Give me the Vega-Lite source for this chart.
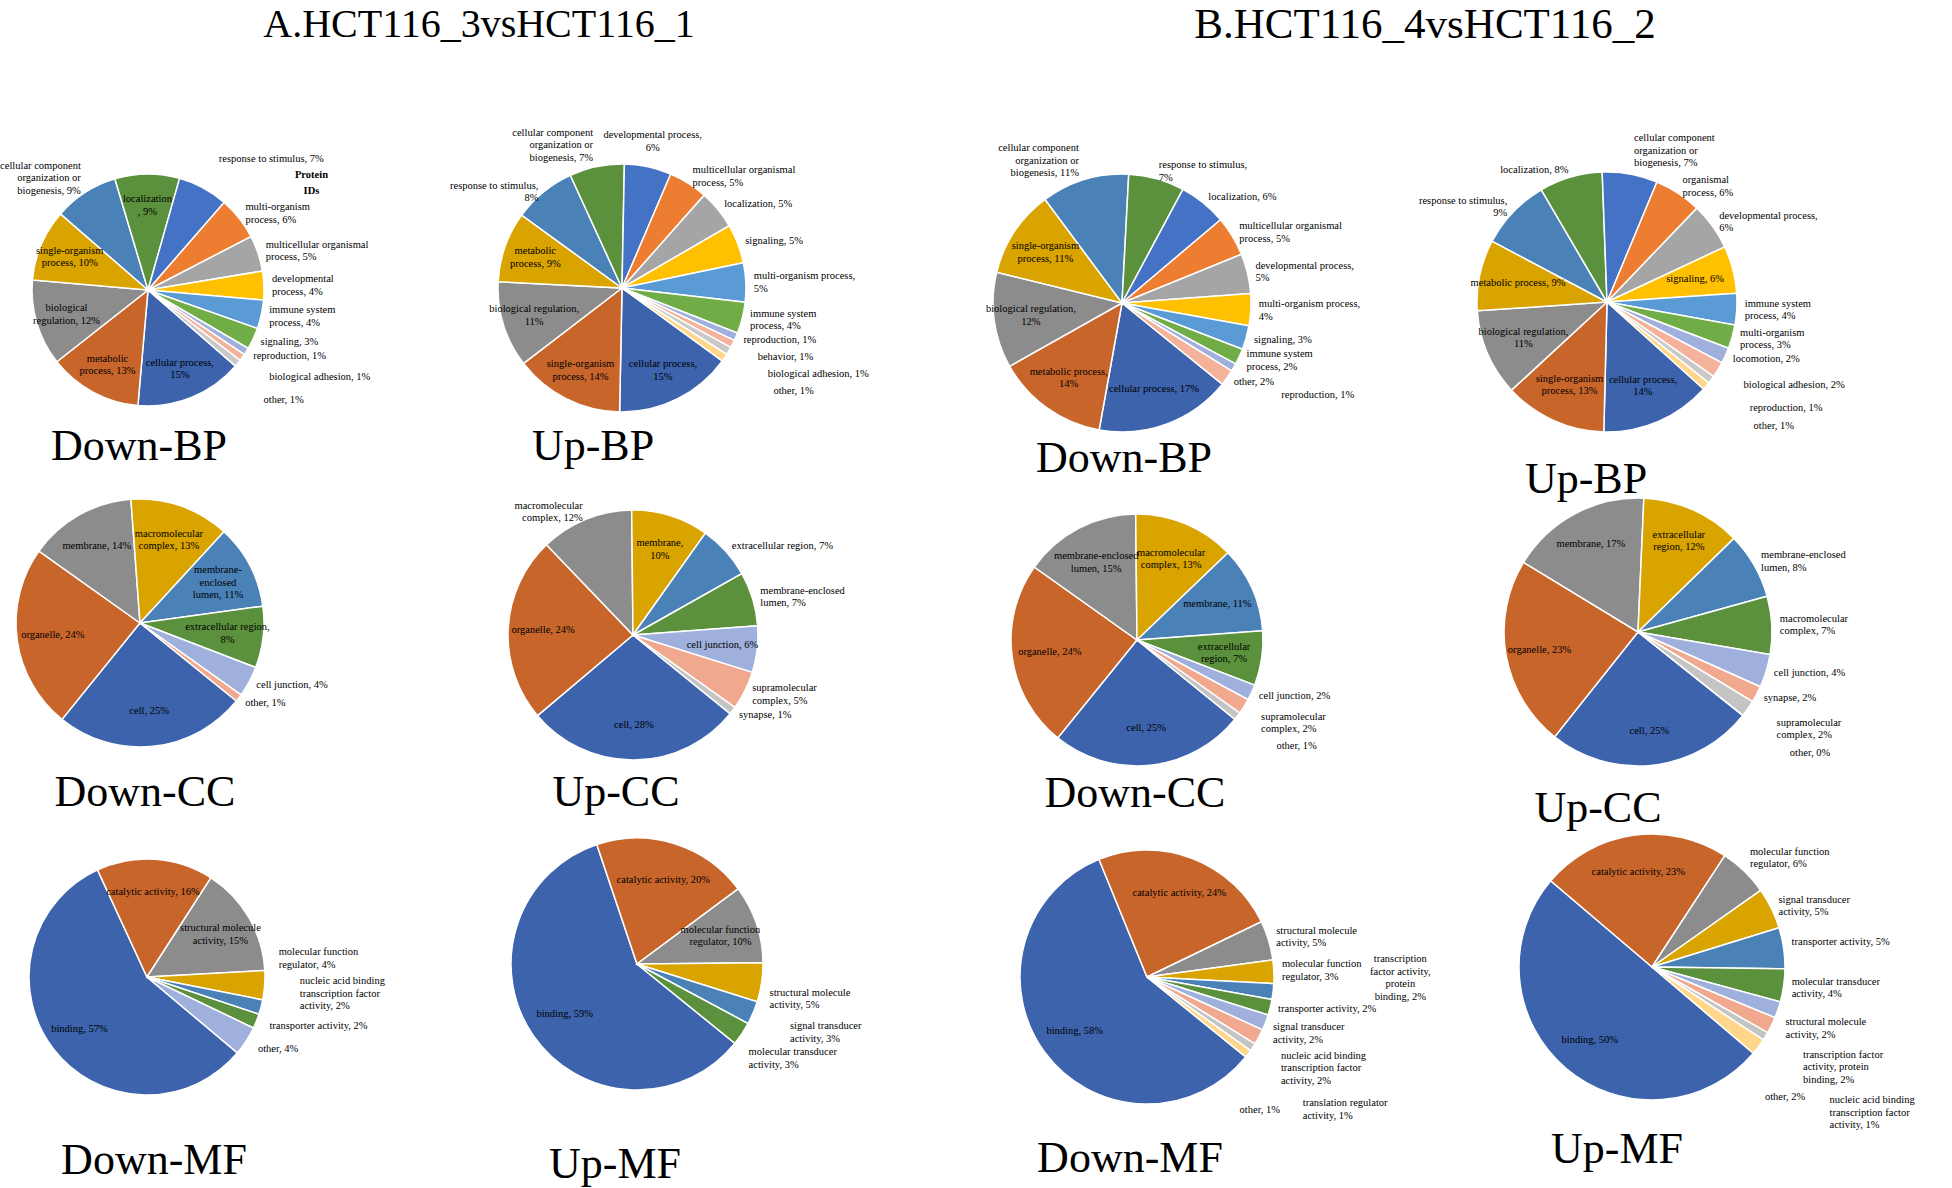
{
"$schema": "https://vega.github.io/schema/vega-lite/v6.json",
"padding": 0,
"background": "#ffffff",
"config": {
  "view": {"stroke": null},
  "font": "Liberation Serif",
  "text": {"font": "Liberation Serif", "fontSize": 10.5, "lineHeight": 12.5, "color": "#000000", "lineBreak": "\n"},
  "arc": {"stroke": "#ffffff", "strokeWidth": 1.5},
  "title": {"font": "Liberation Serif", "fontSize": 44, "fontWeight": "normal", "color": "#000000", "anchor": "middle", "orient": "bottom"}
},
"datasets": {
  "adbp": [
    {"k":1,"name":"cellular process","v":15,"lab":"cellular process,\n15%"},
    {"k":2,"name":"metabolic process","v":13,"lab":"metabolic\nprocess, 13%"},
    {"k":3,"name":"biological regulation","v":12,"lab":"biological\nregulation, 12%"},
    {"k":4,"name":"single-organism process","v":10,"lab":"single-organism\nprocess, 10%"},
    {"k":5,"name":"cellular component organization or biogenesis","v":9,"lab":"cellular component\norganization or\nbiogenesis, 9%"},
    {"k":6,"name":"localization","v":9,"lab":"localization\n, 9%"},
    {"k":7,"name":"response to stimulus","v":7,"lab":"response to stimulus, 7%"},
    {"k":8,"name":"multi-organism process","v":6,"lab":"multi-organism\nprocess, 6%"},
    {"k":9,"name":"multicellular organismal process","v":5,"lab":"multicellular organismal\nprocess, 5%"},
    {"k":10,"name":"developmental process","v":4,"lab":"developmental\nprocess, 4%"},
    {"k":11,"name":"immune system process","v":4,"lab":"immune system\nprocess, 4%"},
    {"k":12,"name":"signaling","v":3,"lab":"signaling, 3%"},
    {"k":13,"name":"reproduction","v":1,"lab":"reproduction, 1%"},
    {"k":14,"name":"biological adhesion","v":1,"lab":"biological adhesion, 1%"},
    {"k":15,"name":"other","v":1,"lab":"other, 1%"}
  ],
  "aubp": [
    {"k":1,"name":"cellular process","v":15,"lab":"cellular process,\n15%"},
    {"k":2,"name":"single-organism process","v":14,"lab":"single-organism\nprocess, 14%"},
    {"k":3,"name":"biological regulation","v":11,"lab":"biological regulation,\n11%"},
    {"k":4,"name":"metabolic process","v":9,"lab":"metabolic\nprocess, 9%"},
    {"k":5,"name":"response to stimulus","v":8,"lab":"response to stimulus,\n8%"},
    {"k":6,"name":"cellular component organization or biogenesis","v":7,"lab":"cellular component\norganization or\nbiogenesis, 7%"},
    {"k":7,"name":"developmental process","v":6,"lab":"developmental process,\n6%"},
    {"k":8,"name":"multicellular organismal process","v":5,"lab":"multicellular organismal\nprocess, 5%"},
    {"k":9,"name":"localization","v":5,"lab":"localization, 5%"},
    {"k":10,"name":"signaling","v":5,"lab":"signaling, 5%"},
    {"k":11,"name":"multi-organism process","v":5,"lab":"multi-organism process,\n5%"},
    {"k":12,"name":"immune system process","v":4,"lab":"immune system\nprocess, 4%"},
    {"k":13,"name":"reproduction","v":1,"lab":"reproduction, 1%"},
    {"k":14,"name":"behavior","v":1,"lab":"behavior, 1%"},
    {"k":15,"name":"biological adhesion","v":1,"lab":"biological adhesion, 1%"},
    {"k":16,"name":"other","v":1,"lab":"other, 1%"}
  ],
  "bdbp": [
    {"k":1,"name":"cellular process","v":17,"lab":"cellular process, 17%"},
    {"k":2,"name":"metabolic process","v":14,"lab":"metabolic process,\n14%"},
    {"k":3,"name":"biological regulation","v":12,"lab":"biological regulation,\n12%"},
    {"k":4,"name":"single-organism process","v":11,"lab":"single-organism\nprocess, 11%"},
    {"k":5,"name":"cellular component organization or biogenesis","v":11,"lab":"cellular component\norganization or\nbiogenesis, 11%"},
    {"k":6,"name":"response to stimulus","v":7,"lab":"response to stimulus,\n7%"},
    {"k":7,"name":"localization","v":6,"lab":"localization, 6%"},
    {"k":8,"name":"multicellular organismal process","v":5,"lab":"multicellular organismal\nprocess, 5%"},
    {"k":9,"name":"developmental process","v":5,"lab":"developmental process,\n5%"},
    {"k":10,"name":"multi-organism process","v":4,"lab":"multi-organism process,\n4%"},
    {"k":11,"name":"signaling","v":3,"lab":"signaling, 3%"},
    {"k":12,"name":"immune system process","v":2,"lab":"immune system\nprocess, 2%"},
    {"k":13,"name":"reproduction","v":1,"lab":"reproduction, 1%"},
    {"k":14,"name":"other","v":2,"lab":"other, 2%"}
  ],
  "bubp": [
    {"k":1,"name":"cellular process","v":14,"lab":"cellular process,\n14%"},
    {"k":2,"name":"single-organism process","v":13,"lab":"single-organism\nprocess, 13%"},
    {"k":3,"name":"biological regulation","v":11,"lab":"biological regulation,\n11%"},
    {"k":4,"name":"metabolic process","v":9,"lab":"metabolic process, 9%"},
    {"k":5,"name":"response to stimulus","v":9,"lab":"response to stimulus,\n9%"},
    {"k":6,"name":"localization","v":8,"lab":"localization, 8%"},
    {"k":7,"name":"cellular component organization or biogenesis","v":7,"lab":"cellular component\norganization or\nbiogenesis, 7%"},
    {"k":8,"name":"organismal process","v":6,"lab":"organismal\nprocess, 6%"},
    {"k":9,"name":"developmental process","v":6,"lab":"developmental process,\n6%"},
    {"k":10,"name":"signaling","v":6,"lab":"signaling, 6%"},
    {"k":11,"name":"immune system process","v":4,"lab":"immune system\nprocess, 4%"},
    {"k":12,"name":"multi-organism process","v":3,"lab":"multi-organism\nprocess, 3%"},
    {"k":13,"name":"locomotion","v":2,"lab":"locomotion, 2%"},
    {"k":14,"name":"biological adhesion","v":2,"lab":"biological adhesion, 2%"},
    {"k":15,"name":"reproduction","v":1,"lab":"reproduction, 1%"},
    {"k":16,"name":"other","v":1,"lab":"other, 1%"}
  ],
  "adcc": [
    {"k":1,"name":"cell","v":25,"lab":"cell, 25%"},
    {"k":2,"name":"organelle","v":24,"lab":"organelle, 24%"},
    {"k":3,"name":"membrane","v":14,"lab":"membrane, 14%"},
    {"k":4,"name":"macromolecular complex","v":13,"lab":"macromolecular\ncomplex, 13%"},
    {"k":5,"name":"membrane-enclosed lumen","v":11,"lab":"membrane-\nenclosed\nlumen, 11%"},
    {"k":6,"name":"extracellular region","v":8,"lab":"extracellular region,\n8%"},
    {"k":7,"name":"cell junction","v":4,"lab":"cell junction, 4%"},
    {"k":8,"name":"other","v":1,"lab":"other, 1%"}
  ],
  "aucc": [
    {"k":1,"name":"cell","v":28,"lab":"cell, 28%"},
    {"k":2,"name":"organelle","v":24,"lab":"organelle, 24%"},
    {"k":3,"name":"macromolecular complex","v":12,"lab":"macromolecular\ncomplex, 12%"},
    {"k":4,"name":"membrane","v":10,"lab":"membrane,\n10%"},
    {"k":5,"name":"extracellular region","v":7,"lab":"extracellular region, 7%"},
    {"k":6,"name":"membrane-enclosed lumen","v":7,"lab":"membrane-enclosed\nlumen, 7%"},
    {"k":7,"name":"cell junction","v":6,"lab":"cell junction, 6%"},
    {"k":8,"name":"supramolecular complex","v":5,"lab":"supramolecular\ncomplex, 5%"},
    {"k":9,"name":"synapse","v":1,"lab":"synapse, 1%"}
  ],
  "bdcc": [
    {"k":1,"name":"cell","v":25,"lab":"cell, 25%"},
    {"k":2,"name":"organelle","v":24,"lab":"organelle, 24%"},
    {"k":3,"name":"membrane-enclosed lumen","v":15,"lab":"membrane-enclosed\nlumen, 15%"},
    {"k":4,"name":"macromolecular complex","v":13,"lab":"macromolecular\ncomplex, 13%"},
    {"k":5,"name":"membrane","v":11,"lab":"membrane, 11%"},
    {"k":6,"name":"extracellular region","v":7,"lab":"extracellular\nregion, 7%"},
    {"k":7,"name":"cell junction","v":2,"lab":"cell junction, 2%"},
    {"k":8,"name":"supramolecular complex","v":2,"lab":"supramolecular\ncomplex, 2%"},
    {"k":9,"name":"other","v":1,"lab":"other, 1%"}
  ],
  "bucc": [
    {"k":1,"name":"cell","v":25,"lab":"cell, 25%"},
    {"k":2,"name":"organelle","v":23,"lab":"organelle, 23%"},
    {"k":3,"name":"membrane","v":17,"lab":"membrane, 17%"},
    {"k":4,"name":"extracellular region","v":12,"lab":"extracellular\nregion, 12%"},
    {"k":5,"name":"membrane-enclosed lumen","v":8,"lab":"membrane-enclosed\nlumen, 8%"},
    {"k":6,"name":"macromolecular complex","v":7,"lab":"macromolecular\ncomplex, 7%"},
    {"k":7,"name":"cell junction","v":4,"lab":"cell junction, 4%"},
    {"k":8,"name":"synapse","v":2,"lab":"synapse, 2%"},
    {"k":9,"name":"supramolecular complex","v":2,"lab":"supramolecular\ncomplex, 2%"},
    {"k":10,"name":"other","v":0,"lab":"other, 0%"}
  ],
  "admf": [
    {"k":1,"name":"binding","v":57,"lab":"binding, 57%"},
    {"k":2,"name":"catalytic activity","v":16,"lab":"catalytic activity, 16%"},
    {"k":3,"name":"structural molecule activity","v":15,"lab":"structural molecule\nactivity, 15%"},
    {"k":4,"name":"molecular function regulator","v":4,"lab":"molecular function\nregulator, 4%"},
    {"k":5,"name":"nucleic acid binding transcription factor activity","v":2,"lab":"nucleic acid binding\ntranscription factor\nactivity, 2%"},
    {"k":6,"name":"transporter activity","v":2,"lab":"transporter activity, 2%"},
    {"k":7,"name":"other","v":4,"lab":"other, 4%"}
  ],
  "aumf": [
    {"k":1,"name":"binding","v":59,"lab":"binding, 59%"},
    {"k":2,"name":"catalytic activity","v":20,"lab":"catalytic activity, 20%"},
    {"k":3,"name":"molecular function regulator","v":10,"lab":"molecular function\nregulator, 10%"},
    {"k":4,"name":"structural molecule activity","v":5,"lab":"structural molecule\nactivity, 5%"},
    {"k":5,"name":"signal transducer activity","v":3,"lab":"signal transducer\nactivity, 3%"},
    {"k":6,"name":"molecular transducer activity","v":3,"lab":"molecular transducer\nactivity, 3%"}
  ],
  "bdmf": [
    {"k":1,"name":"binding","v":58,"lab":"binding, 58%"},
    {"k":2,"name":"catalytic activity","v":24,"lab":"catalytic activity, 24%"},
    {"k":3,"name":"structural molecule activity","v":5,"lab":"structural molecule\nactivity, 5%"},
    {"k":4,"name":"molecular function regulator","v":3,"lab":"molecular function\nregulator, 3%"},
    {"k":5,"name":"transcription factor activity, protein binding","v":2,"lab":"transcription\nfactor activity,\nprotein\nbinding, 2%"},
    {"k":6,"name":"transporter activity","v":2,"lab":"transporter activity, 2%"},
    {"k":7,"name":"signal transducer activity","v":2,"lab":"signal transducer\nactivity, 2%"},
    {"k":8,"name":"nucleic acid binding transcription factor activity","v":2,"lab":"nucleic acid binding\ntranscription factor\nactivity, 2%"},
    {"k":9,"name":"translation regulator activity","v":1,"lab":"translation regulator\nactivity, 1%"},
    {"k":10,"name":"other","v":1,"lab":"other, 1%"}
  ],
  "bumf": [
    {"k":1,"name":"binding","v":50,"lab":"binding, 50%"},
    {"k":2,"name":"catalytic activity","v":23,"lab":"catalytic activity, 23%"},
    {"k":3,"name":"molecular function regulator","v":6,"lab":"molecular function\nregulator, 6%"},
    {"k":4,"name":"signal transducer activity","v":5,"lab":"signal transducer\nactivity, 5%"},
    {"k":5,"name":"transporter activity","v":5,"lab":"transporter activity, 5%"},
    {"k":6,"name":"molecular transducer activity","v":4,"lab":"molecular transducer\nactivity, 4%"},
    {"k":7,"name":"structural molecule activity","v":2,"lab":"structural molecule\nactivity, 2%"},
    {"k":8,"name":"transcription factor activity, protein binding","v":2,"lab":"transcription factor\nactivity, protein\nbinding, 2%"},
    {"k":9,"name":"nucleic acid binding transcription factor activity","v":1,"lab":"nucleic acid binding\ntranscription factor\nactivity, 1%"},
    {"k":10,"name":"other","v":2,"lab":"other, 2%"}
  ]
},
"columns": 4,
"align": "each",
"bounds": "flush",
"spacing": {"row": 60, "column": 40},
"resolve": {"scale": {"color": "independent", "theta": "independent"}},
"concat": [
  {"width": 1, "height": 44, "data": {"values": [{"t": ""}]}, "mark": {"type": "text"}, "encoding": {"text": {"field": "t"}}},
  {"width": 286, "height": 44, "data": {"values": [{"t": "A.HCT116_3vsHCT116_1"}]}, "mark": {"type": "text", "fontSize": 40, "dy": 3}, "encoding": {"text": {"field": "t"}}},
  {"width": 1, "height": 44, "data": {"values": [{"t": ""}]}, "mark": {"type": "text"}, "encoding": {"text": {"field": "t"}}},
  {"width": 138, "height": 44, "data": {"values": [{"t": "B.HCT116_4vsHCT116_2"}]}, "mark": {"type": "text", "fontSize": 43, "dy": 3}, "encoding": {"text": {"field": "t"}}},
  {
    "width": 296, "height": 372, "data": {"name": "adbp"},
    "title": {"text": "Down-BP", "orient": "bottom", "offset": -51, "dx": -9},
    "encoding": {"theta": {"field": "v", "type": "quantitative", "stack": true, "scale": {"range": [2.2864, 8.5696]}}, "order": {"field": "k", "type": "quantitative"}},
    "layer": [
      {"mark": {"type": "arc", "outerRadius": 116}, "encoding": {"color": {"field": "k", "type": "ordinal", "legend": null, "scale": {"range": ["#3C63AC","#C8652B","#8C8C8C","#D9A300","#4A81B7","#5B913C","#4472C4","#ED7D31","#A5A5A5","#FFC000","#5B9BD5","#70AD47","#9FB0DC","#F4B29A","#C9C9C9","#FFD68A"]}}}},
      {"mark": {"type": "text", "radius": 85, "dy": -6}, "encoding": {"text": {"condition": {"test": "indexof([1,2,3,4,6], datum.k) >= 0", "field": "lab"}, "value": ""}}},
      {"mark": {"type": "text", "radius": 124, "align": "right", "dy": -20}, "encoding": {"text": {"condition": {"test": "indexof([5], datum.k) >= 0", "field": "lab"}, "value": ""}}},
      {"mark": {"type": "text", "radius": 124, "align": "left", "dy": -6}, "encoding": {"text": {"condition": {"test": "indexof([8,9,10,11], datum.k) >= 0", "field": "lab"}, "value": ""}}},
      {"mark": {"type": "text", "radius": 124, "align": "left"}, "encoding": {"text": {"condition": {"test": "indexof([12,13], datum.k) >= 0", "field": "lab"}, "value": ""}}},
      {"mark": {"type": "text", "radius": 149, "align": "left"}, "encoding": {"text": {"condition": {"test": "indexof([7,14], datum.k) >= 0", "field": "lab"}, "value": ""}}},
      {"mark": {"type": "text", "radius": 149, "align": "left", "dy": 16}, "encoding": {"text": {"condition": {"test": "indexof([15], datum.k) >= 0", "field": "lab"}, "value": ""}}},
      {"mark": {"type": "text", "radius": 124, "align": "center", "fontWeight": "bold", "lineHeight": 16, "dx": 66, "dy": -38}, "encoding": {"text": {"condition": {"test": "datum.k == 8", "value": "Protein\nIDs"}, "value": ""}}}
    ]
  },
  {
    "width": 572, "height": 368, "data": {"name": "aubp"},
    "title": {"text": "Up-BP", "orient": "bottom", "offset": -47, "dx": -29},
    "encoding": {"theta": {"field": "v", "type": "quantitative", "stack": true, "scale": {"range": [2.1991, 8.4823]}}, "order": {"field": "k", "type": "quantitative"}},
    "layer": [
      {"mark": {"type": "arc", "outerRadius": 124}, "encoding": {"color": {"field": "k", "type": "ordinal", "legend": null, "scale": {"range": ["#3C63AC","#C8652B","#8C8C8C","#D9A300","#4A81B7","#5B913C","#4472C4","#ED7D31","#A5A5A5","#FFC000","#5B9BD5","#70AD47","#9FB0DC","#F4B29A","#C9C9C9","#FFD68A"]}}}},
      {"mark": {"type": "text", "radius": 92, "dy": -6}, "encoding": {"text": {"condition": {"test": "indexof([1,2,3,4], datum.k) >= 0", "field": "lab"}, "value": ""}}},
      {"mark": {"type": "text", "radius": 132, "align": "right"}, "encoding": {"text": {"condition": {"test": "indexof([5], datum.k) >= 0", "field": "lab"}, "value": ""}}},
      {"mark": {"type": "text", "radius": 142, "align": "right", "dy": -16}, "encoding": {"text": {"condition": {"test": "indexof([6], datum.k) >= 0", "field": "lab"}, "value": ""}}},
      {"mark": {"type": "text", "radius": 146, "align": "center", "dy": -10}, "encoding": {"text": {"condition": {"test": "indexof([7], datum.k) >= 0", "field": "lab"}, "value": ""}}},
      {"mark": {"type": "text", "radius": 132, "align": "left", "dy": -6}, "encoding": {"text": {"condition": {"test": "indexof([8,11,12], datum.k) >= 0", "field": "lab"}, "value": ""}}},
      {"mark": {"type": "text", "radius": 132, "align": "left"}, "encoding": {"text": {"condition": {"test": "indexof([9,10,13], datum.k) >= 0", "field": "lab"}, "value": ""}}},
      {"mark": {"type": "text", "radius": 152, "align": "left"}, "encoding": {"text": {"condition": {"test": "indexof([14], datum.k) >= 0", "field": "lab"}, "value": ""}}},
      {"mark": {"type": "text", "radius": 169, "align": "left"}, "encoding": {"text": {"condition": {"test": "indexof([15], datum.k) >= 0", "field": "lab"}, "value": ""}}},
      {"mark": {"type": "text", "radius": 183, "align": "left"}, "encoding": {"text": {"condition": {"test": "indexof([16], datum.k) >= 0", "field": "lab"}, "value": ""}}}
    ]
  },
  {
    "width": 288, "height": 398, "data": {"name": "bdbp"},
    "title": {"text": "Down-BP", "orient": "bottom", "offset": -65, "dx": 2},
    "encoding": {"theta": {"field": "v", "type": "quantitative", "stack": true, "scale": {"range": [2.2515, 8.5347]}}, "order": {"field": "k", "type": "quantitative"}},
    "layer": [
      {"mark": {"type": "arc", "outerRadius": 129}, "encoding": {"color": {"field": "k", "type": "ordinal", "legend": null, "scale": {"range": ["#3C63AC","#C8652B","#8C8C8C","#D9A300","#4A81B7","#5B913C","#4472C4","#ED7D31","#A5A5A5","#FFC000","#5B9BD5","#70AD47","#9FB0DC","#F4B29A","#C9C9C9","#FFD68A"]}}}},
      {"mark": {"type": "text", "radius": 92}, "encoding": {"text": {"condition": {"test": "indexof([1], datum.k) >= 0", "field": "lab"}, "value": ""}}},
      {"mark": {"type": "text", "radius": 92, "dy": -6}, "encoding": {"text": {"condition": {"test": "indexof([2,3,4], datum.k) >= 0", "field": "lab"}, "value": ""}}},
      {"mark": {"type": "text", "radius": 149, "align": "right", "dy": -12}, "encoding": {"text": {"condition": {"test": "indexof([5], datum.k) >= 0", "field": "lab"}, "value": ""}}},
      {"mark": {"type": "text", "radius": 137, "align": "left", "dy": -6}, "encoding": {"text": {"condition": {"test": "indexof([6,8,9,10,12], datum.k) >= 0", "field": "lab"}, "value": ""}}},
      {"mark": {"type": "text", "radius": 137, "align": "left"}, "encoding": {"text": {"condition": {"test": "indexof([7,11,14], datum.k) >= 0", "field": "lab"}, "value": ""}}},
      {"mark": {"type": "text", "radius": 184, "align": "left"}, "encoding": {"text": {"condition": {"test": "indexof([13], datum.k) >= 0", "field": "lab"}, "value": ""}}}
    ]
  },
  {
    "width": 502, "height": 396, "data": {"name": "bubp"},
    "title": {"text": "Up-BP", "orient": "bottom", "offset": -42, "dx": -21},
    "encoding": {"theta": {"field": "v", "type": "quantitative", "stack": true, "scale": {"range": [2.3038, 8.5870]}}, "order": {"field": "k", "type": "quantitative"}},
    "layer": [
      {"mark": {"type": "arc", "outerRadius": 130}, "encoding": {"color": {"field": "k", "type": "ordinal", "legend": null, "scale": {"range": ["#3C63AC","#C8652B","#8C8C8C","#D9A300","#4A81B7","#5B913C","#4472C4","#ED7D31","#A5A5A5","#FFC000","#5B9BD5","#70AD47","#9FB0DC","#F4B29A","#C9C9C9","#FFD68A"]}}}},
      {"mark": {"type": "text", "radius": 91, "dy": -6}, "encoding": {"text": {"condition": {"test": "indexof([1,2,3], datum.k) >= 0", "field": "lab"}, "value": ""}}},
      {"mark": {"type": "text", "radius": 91}, "encoding": {"text": {"condition": {"test": "indexof([4,10], datum.k) >= 0", "field": "lab"}, "value": ""}}},
      {"mark": {"type": "text", "radius": 138, "align": "right", "dy": -6}, "encoding": {"text": {"condition": {"test": "indexof([5], datum.k) >= 0", "field": "lab"}, "value": ""}}},
      {"mark": {"type": "text", "radius": 138, "align": "right"}, "encoding": {"text": {"condition": {"test": "indexof([6], datum.k) >= 0", "field": "lab"}, "value": ""}}},
      {"mark": {"type": "text", "radius": 152, "align": "left", "dy": -14}, "encoding": {"text": {"condition": {"test": "indexof([7], datum.k) >= 0", "field": "lab"}, "value": ""}}},
      {"mark": {"type": "text", "radius": 138, "align": "left", "dy": -6}, "encoding": {"text": {"condition": {"test": "indexof([8,9,11,12], datum.k) >= 0", "field": "lab"}, "value": ""}}},
      {"mark": {"type": "text", "radius": 138, "align": "left"}, "encoding": {"text": {"condition": {"test": "indexof([13], datum.k) >= 0", "field": "lab"}, "value": ""}}},
      {"mark": {"type": "text", "radius": 160, "align": "left"}, "encoding": {"text": {"condition": {"test": "indexof([14], datum.k) >= 0", "field": "lab"}, "value": ""}}},
      {"mark": {"type": "text", "radius": 178, "align": "left"}, "encoding": {"text": {"condition": {"test": "indexof([15], datum.k) >= 0", "field": "lab"}, "value": ""}}},
      {"mark": {"type": "text", "radius": 192, "align": "left"}, "encoding": {"text": {"condition": {"test": "indexof([16], datum.k) >= 0", "field": "lab"}, "value": ""}}}
    ]
  },
  {
    "width": 280, "height": 122, "data": {"name": "adcc"},
    "title": {"text": "Down-CC", "orient": "bottom", "offset": 11, "dx": 5},
    "encoding": {"theta": {"field": "v", "type": "quantitative", "stack": true, "scale": {"range": [2.2515, 8.5347]}}, "order": {"field": "k", "type": "quantitative"}},
    "layer": [
      {"mark": {"type": "arc", "outerRadius": 124}, "encoding": {"color": {"field": "k", "type": "ordinal", "legend": null, "scale": {"range": ["#3C63AC","#C8652B","#8C8C8C","#D9A300","#4A81B7","#5B913C","#9FB0DC","#F0A98F","#C4C4C4","#FFD68A"]}}}},
      {"mark": {"type": "text", "radius": 88}, "encoding": {"text": {"condition": {"test": "indexof([1,2,3], datum.k) >= 0", "field": "lab"}, "value": ""}}},
      {"mark": {"type": "text", "radius": 88, "dy": -6}, "encoding": {"text": {"condition": {"test": "indexof([4,6], datum.k) >= 0", "field": "lab"}, "value": ""}}},
      {"mark": {"type": "text", "radius": 88, "dy": -12}, "encoding": {"text": {"condition": {"test": "indexof([5], datum.k) >= 0", "field": "lab"}, "value": ""}}},
      {"mark": {"type": "text", "radius": 132, "align": "left"}, "encoding": {"text": {"condition": {"test": "indexof([7,8], datum.k) >= 0", "field": "lab"}, "value": ""}}}
    ]
  },
  {
    "width": 594, "height": 146, "data": {"name": "aucc"},
    "title": {"text": "Up-CC", "orient": "bottom", "offset": -2, "dx": -17},
    "encoding": {"theta": {"field": "v", "type": "quantitative", "stack": true, "scale": {"range": [2.2515, 8.5347]}}, "order": {"field": "k", "type": "quantitative"}},
    "layer": [
      {"mark": {"type": "arc", "outerRadius": 125}, "encoding": {"color": {"field": "k", "type": "ordinal", "legend": null, "scale": {"range": ["#3C63AC","#C8652B","#8C8C8C","#D9A300","#4A81B7","#5B913C","#9FB0DC","#F0A98F","#C4C4C4","#FFD68A"]}}}},
      {"mark": {"type": "text", "radius": 90}, "encoding": {"text": {"condition": {"test": "indexof([1,2,7], datum.k) >= 0", "field": "lab"}, "value": ""}}},
      {"mark": {"type": "text", "radius": 90, "dy": -6}, "encoding": {"text": {"condition": {"test": "indexof([4], datum.k) >= 0", "field": "lab"}, "value": ""}}},
      {"mark": {"type": "text", "radius": 133, "align": "right", "dy": -6}, "encoding": {"text": {"condition": {"test": "indexof([3], datum.k) >= 0", "field": "lab"}, "value": ""}}},
      {"mark": {"type": "text", "radius": 133, "align": "left"}, "encoding": {"text": {"condition": {"test": "indexof([5,9], datum.k) >= 0", "field": "lab"}, "value": ""}}},
      {"mark": {"type": "text", "radius": 133, "align": "left", "dy": -6}, "encoding": {"text": {"condition": {"test": "indexof([6,8], datum.k) >= 0", "field": "lab"}, "value": ""}}}
    ]
  },
  {
    "width": 318, "height": 156, "data": {"name": "bdcc"},
    "title": {"text": "Down-CC", "orient": "bottom", "offset": -48, "dx": -2},
    "encoding": {"theta": {"field": "v", "type": "quantitative", "stack": true, "scale": {"range": [2.2515, 8.5347]}}, "order": {"field": "k", "type": "quantitative"}},
    "layer": [
      {"mark": {"type": "arc", "outerRadius": 126}, "encoding": {"color": {"field": "k", "type": "ordinal", "legend": null, "scale": {"range": ["#3C63AC","#C8652B","#8C8C8C","#D9A300","#4A81B7","#5B913C","#9FB0DC","#F0A98F","#C4C4C4","#FFD68A"]}}}},
      {"mark": {"type": "text", "radius": 88}, "encoding": {"text": {"condition": {"test": "indexof([1,2,5], datum.k) >= 0", "field": "lab"}, "value": ""}}},
      {"mark": {"type": "text", "radius": 88, "dy": -6}, "encoding": {"text": {"condition": {"test": "indexof([3,4,6], datum.k) >= 0", "field": "lab"}, "value": ""}}},
      {"mark": {"type": "text", "radius": 134, "align": "left"}, "encoding": {"text": {"condition": {"test": "indexof([7], datum.k) >= 0", "field": "lab"}, "value": ""}}},
      {"mark": {"type": "text", "radius": 146, "align": "left"}, "encoding": {"text": {"condition": {"test": "indexof([8], datum.k) >= 0", "field": "lab"}, "value": ""}}},
      {"mark": {"type": "text", "radius": 175, "align": "left"}, "encoding": {"text": {"condition": {"test": "indexof([9], datum.k) >= 0", "field": "lab"}, "value": ""}}}
    ]
  },
  {
    "width": 564, "height": 140, "data": {"name": "bucc"},
    "title": {"text": "Up-CC", "orient": "bottom", "offset": -43, "dx": -40},
    "encoding": {"theta": {"field": "v", "type": "quantitative", "stack": true, "scale": {"range": [2.2428, 8.5260]}}, "order": {"field": "k", "type": "quantitative"}},
    "layer": [
      {"mark": {"type": "arc", "outerRadius": 134}, "encoding": {"color": {"field": "k", "type": "ordinal", "legend": null, "scale": {"range": ["#3C63AC","#C8652B","#8C8C8C","#D9A300","#4A81B7","#5B913C","#9FB0DC","#F0A98F","#C4C4C4","#FFD68A"]}}}},
      {"mark": {"type": "text", "radius": 100}, "encoding": {"text": {"condition": {"test": "indexof([1,2,3], datum.k) >= 0", "field": "lab"}, "value": ""}}},
      {"mark": {"type": "text", "radius": 100, "dy": -6}, "encoding": {"text": {"condition": {"test": "indexof([4], datum.k) >= 0", "field": "lab"}, "value": ""}}},
      {"mark": {"type": "text", "radius": 142, "align": "left", "dy": -6}, "encoding": {"text": {"condition": {"test": "indexof([5,6], datum.k) >= 0", "field": "lab"}, "value": ""}}},
      {"mark": {"type": "text", "radius": 142, "align": "left"}, "encoding": {"text": {"condition": {"test": "indexof([7,8], datum.k) >= 0", "field": "lab"}, "value": ""}}},
      {"mark": {"type": "text", "radius": 169, "align": "left", "dy": -6}, "encoding": {"text": {"condition": {"test": "indexof([9], datum.k) >= 0", "field": "lab"}, "value": ""}}},
      {"mark": {"type": "text", "radius": 194, "align": "left"}, "encoding": {"text": {"condition": {"test": "indexof([10], datum.k) >= 0", "field": "lab"}, "value": ""}}}
    ]
  },
  {
    "width": 294, "height": 398, "data": {"name": "admf"},
    "title": {"text": "Down-MF", "orient": "bottom", "offset": -37, "dx": 7},
    "encoding": {"theta": {"field": "v", "type": "quantitative", "stack": true, "scale": {"range": [2.2689, 8.5521]}}, "order": {"field": "k", "type": "quantitative"}},
    "layer": [
      {"mark": {"type": "arc", "outerRadius": 118}, "encoding": {"color": {"field": "k", "type": "ordinal", "legend": null, "scale": {"range": ["#3C63AC","#C8652B","#8C8C8C","#D9A300","#4A81B7","#5B913C","#9FB0DC","#F0A98F","#C4C4C4","#FFD68A"]}}}},
      {"mark": {"type": "text", "radius": 85}, "encoding": {"text": {"condition": {"test": "indexof([1,2], datum.k) >= 0", "field": "lab"}, "value": ""}}},
      {"mark": {"type": "text", "radius": 85, "dy": -6}, "encoding": {"text": {"condition": {"test": "indexof([3], datum.k) >= 0", "field": "lab"}, "value": ""}}},
      {"mark": {"type": "text", "radius": 132, "align": "left", "dy": -34}, "encoding": {"text": {"condition": {"test": "indexof([4], datum.k) >= 0", "field": "lab"}, "value": ""}}},
      {"mark": {"type": "text", "radius": 158, "align": "left", "dy": -36}, "encoding": {"text": {"condition": {"test": "indexof([5], datum.k) >= 0", "field": "lab"}, "value": ""}}},
      {"mark": {"type": "text", "radius": 132, "align": "left"}, "encoding": {"text": {"condition": {"test": "indexof([6,7], datum.k) >= 0", "field": "lab"}, "value": ""}}}
    ]
  },
  {
    "width": 602, "height": 372, "data": {"name": "aumf"},
    "title": {"text": "Up-MF", "orient": "bottom", "offset": -7, "dx": -22},
    "encoding": {"theta": {"field": "v", "type": "quantitative", "stack": true, "scale": {"range": [2.2515, 8.5347]}}, "order": {"field": "k", "type": "quantitative"}},
    "layer": [
      {"mark": {"type": "arc", "outerRadius": 126}, "encoding": {"color": {"field": "k", "type": "ordinal", "legend": null, "scale": {"range": ["#3C63AC","#C8652B","#8C8C8C","#D9A300","#4A81B7","#5B913C","#9FB0DC","#F0A98F","#C4C4C4","#FFD68A"]}}}},
      {"mark": {"type": "text", "radius": 88}, "encoding": {"text": {"condition": {"test": "indexof([1,2], datum.k) >= 0", "field": "lab"}, "value": ""}}},
      {"mark": {"type": "text", "radius": 88, "dy": -6}, "encoding": {"text": {"condition": {"test": "indexof([3], datum.k) >= 0", "field": "lab"}, "value": ""}}},
      {"mark": {"type": "text", "radius": 134, "align": "left", "dy": 9}, "encoding": {"text": {"condition": {"test": "indexof([4], datum.k) >= 0", "field": "lab"}, "value": ""}}},
      {"mark": {"type": "text", "radius": 166, "align": "left", "dy": -2}, "encoding": {"text": {"condition": {"test": "indexof([5], datum.k) >= 0", "field": "lab"}, "value": ""}}},
      {"mark": {"type": "text", "radius": 134, "align": "left", "dy": 14}, "encoding": {"text": {"condition": {"test": "indexof([6], datum.k) >= 0", "field": "lab"}, "value": ""}}}
    ]
  },
  {
    "width": 338, "height": 398, "data": {"name": "bdmf"},
    "title": {"text": "Down-MF", "orient": "bottom", "offset": -39, "dx": -17},
    "encoding": {"theta": {"field": "v", "type": "quantitative", "stack": true, "scale": {"range": [2.2515, 8.5347]}}, "order": {"field": "k", "type": "quantitative"}},
    "layer": [
      {"mark": {"type": "arc", "outerRadius": 127}, "encoding": {"color": {"field": "k", "type": "ordinal", "legend": null, "scale": {"range": ["#3C63AC","#C8652B","#8C8C8C","#D9A300","#4A81B7","#5B913C","#9FB0DC","#F0A98F","#C4C4C4","#FFD68A"]}}}},
      {"mark": {"type": "text", "radius": 90}, "encoding": {"text": {"condition": {"test": "indexof([1,2], datum.k) >= 0", "field": "lab"}, "value": ""}}},
      {"mark": {"type": "text", "radius": 135, "align": "left", "dy": -7}, "encoding": {"text": {"condition": {"test": "indexof([3,4], datum.k) >= 0", "field": "lab"}, "value": ""}}},
      {"mark": {"type": "text", "radius": 135, "align": "left"}, "encoding": {"text": {"condition": {"test": "indexof([6], datum.k) >= 0", "field": "lab"}, "value": ""}}},
      {"mark": {"type": "text", "radius": 135, "align": "left", "dy": 2}, "encoding": {"text": {"condition": {"test": "indexof([7], datum.k) >= 0", "field": "lab"}, "value": ""}}},
      {"mark": {"type": "text", "radius": 255, "align": "center", "dy": -47}, "encoding": {"text": {"condition": {"test": "indexof([5], datum.k) >= 0", "field": "lab"}, "value": ""}}},
      {"mark": {"type": "text", "radius": 152, "align": "left", "dy": 7}, "encoding": {"text": {"condition": {"test": "indexof([8], datum.k) >= 0", "field": "lab"}, "value": ""}}},
      {"mark": {"type": "text", "radius": 187, "align": "left", "dy": 23}, "encoding": {"text": {"condition": {"test": "indexof([9], datum.k) >= 0", "field": "lab"}, "value": ""}}},
      {"mark": {"type": "text", "radius": 167, "align": "right", "dy": 32}, "encoding": {"text": {"condition": {"test": "indexof([10], datum.k) >= 0", "field": "lab"}, "value": ""}}}
    ]
  },
  {
    "width": 592, "height": 378, "data": {"name": "bumf"},
    "title": {"text": "Up-MF", "orient": "bottom", "offset": -28, "dx": -35},
    "encoding": {"theta": {"field": "v", "type": "quantitative", "stack": true, "scale": {"range": [2.2759, 8.5591]}}, "order": {"field": "k", "type": "quantitative"}},
    "layer": [
      {"mark": {"type": "arc", "outerRadius": 133}, "encoding": {"color": {"field": "k", "type": "ordinal", "legend": null, "scale": {"range": ["#3C63AC","#C8652B","#8C8C8C","#D9A300","#4A81B7","#5B913C","#9FB0DC","#F0A98F","#C4C4C4","#FFD68A"]}}}},
      {"mark": {"type": "text", "radius": 96}, "encoding": {"text": {"condition": {"test": "indexof([1,2], datum.k) >= 0", "field": "lab"}, "value": ""}}},
      {"mark": {"type": "text", "radius": 141, "align": "left", "dy": -14}, "encoding": {"text": {"condition": {"test": "indexof([3], datum.k) >= 0", "field": "lab"}, "value": ""}}},
      {"mark": {"type": "text", "radius": 141, "align": "left", "dy": -5}, "encoding": {"text": {"condition": {"test": "indexof([4,5,6], datum.k) >= 0", "field": "lab"}, "value": ""}}},
      {"mark": {"type": "text", "radius": 141, "align": "left", "dy": 10}, "encoding": {"text": {"condition": {"test": "indexof([7], datum.k) >= 0", "field": "lab"}, "value": ""}}},
      {"mark": {"type": "text", "radius": 168, "align": "left", "dy": 14}, "encoding": {"text": {"condition": {"test": "indexof([8], datum.k) >= 0", "field": "lab"}, "value": ""}}},
      {"mark": {"type": "text", "radius": 208, "align": "left", "dy": 25}, "encoding": {"text": {"condition": {"test": "indexof([9], datum.k) >= 0", "field": "lab"}, "value": ""}}},
      {"mark": {"type": "text", "radius": 141, "align": "left", "dy": 46}, "encoding": {"text": {"condition": {"test": "indexof([10], datum.k) >= 0", "field": "lab"}, "value": ""}}}
    ]
  }
]
}
